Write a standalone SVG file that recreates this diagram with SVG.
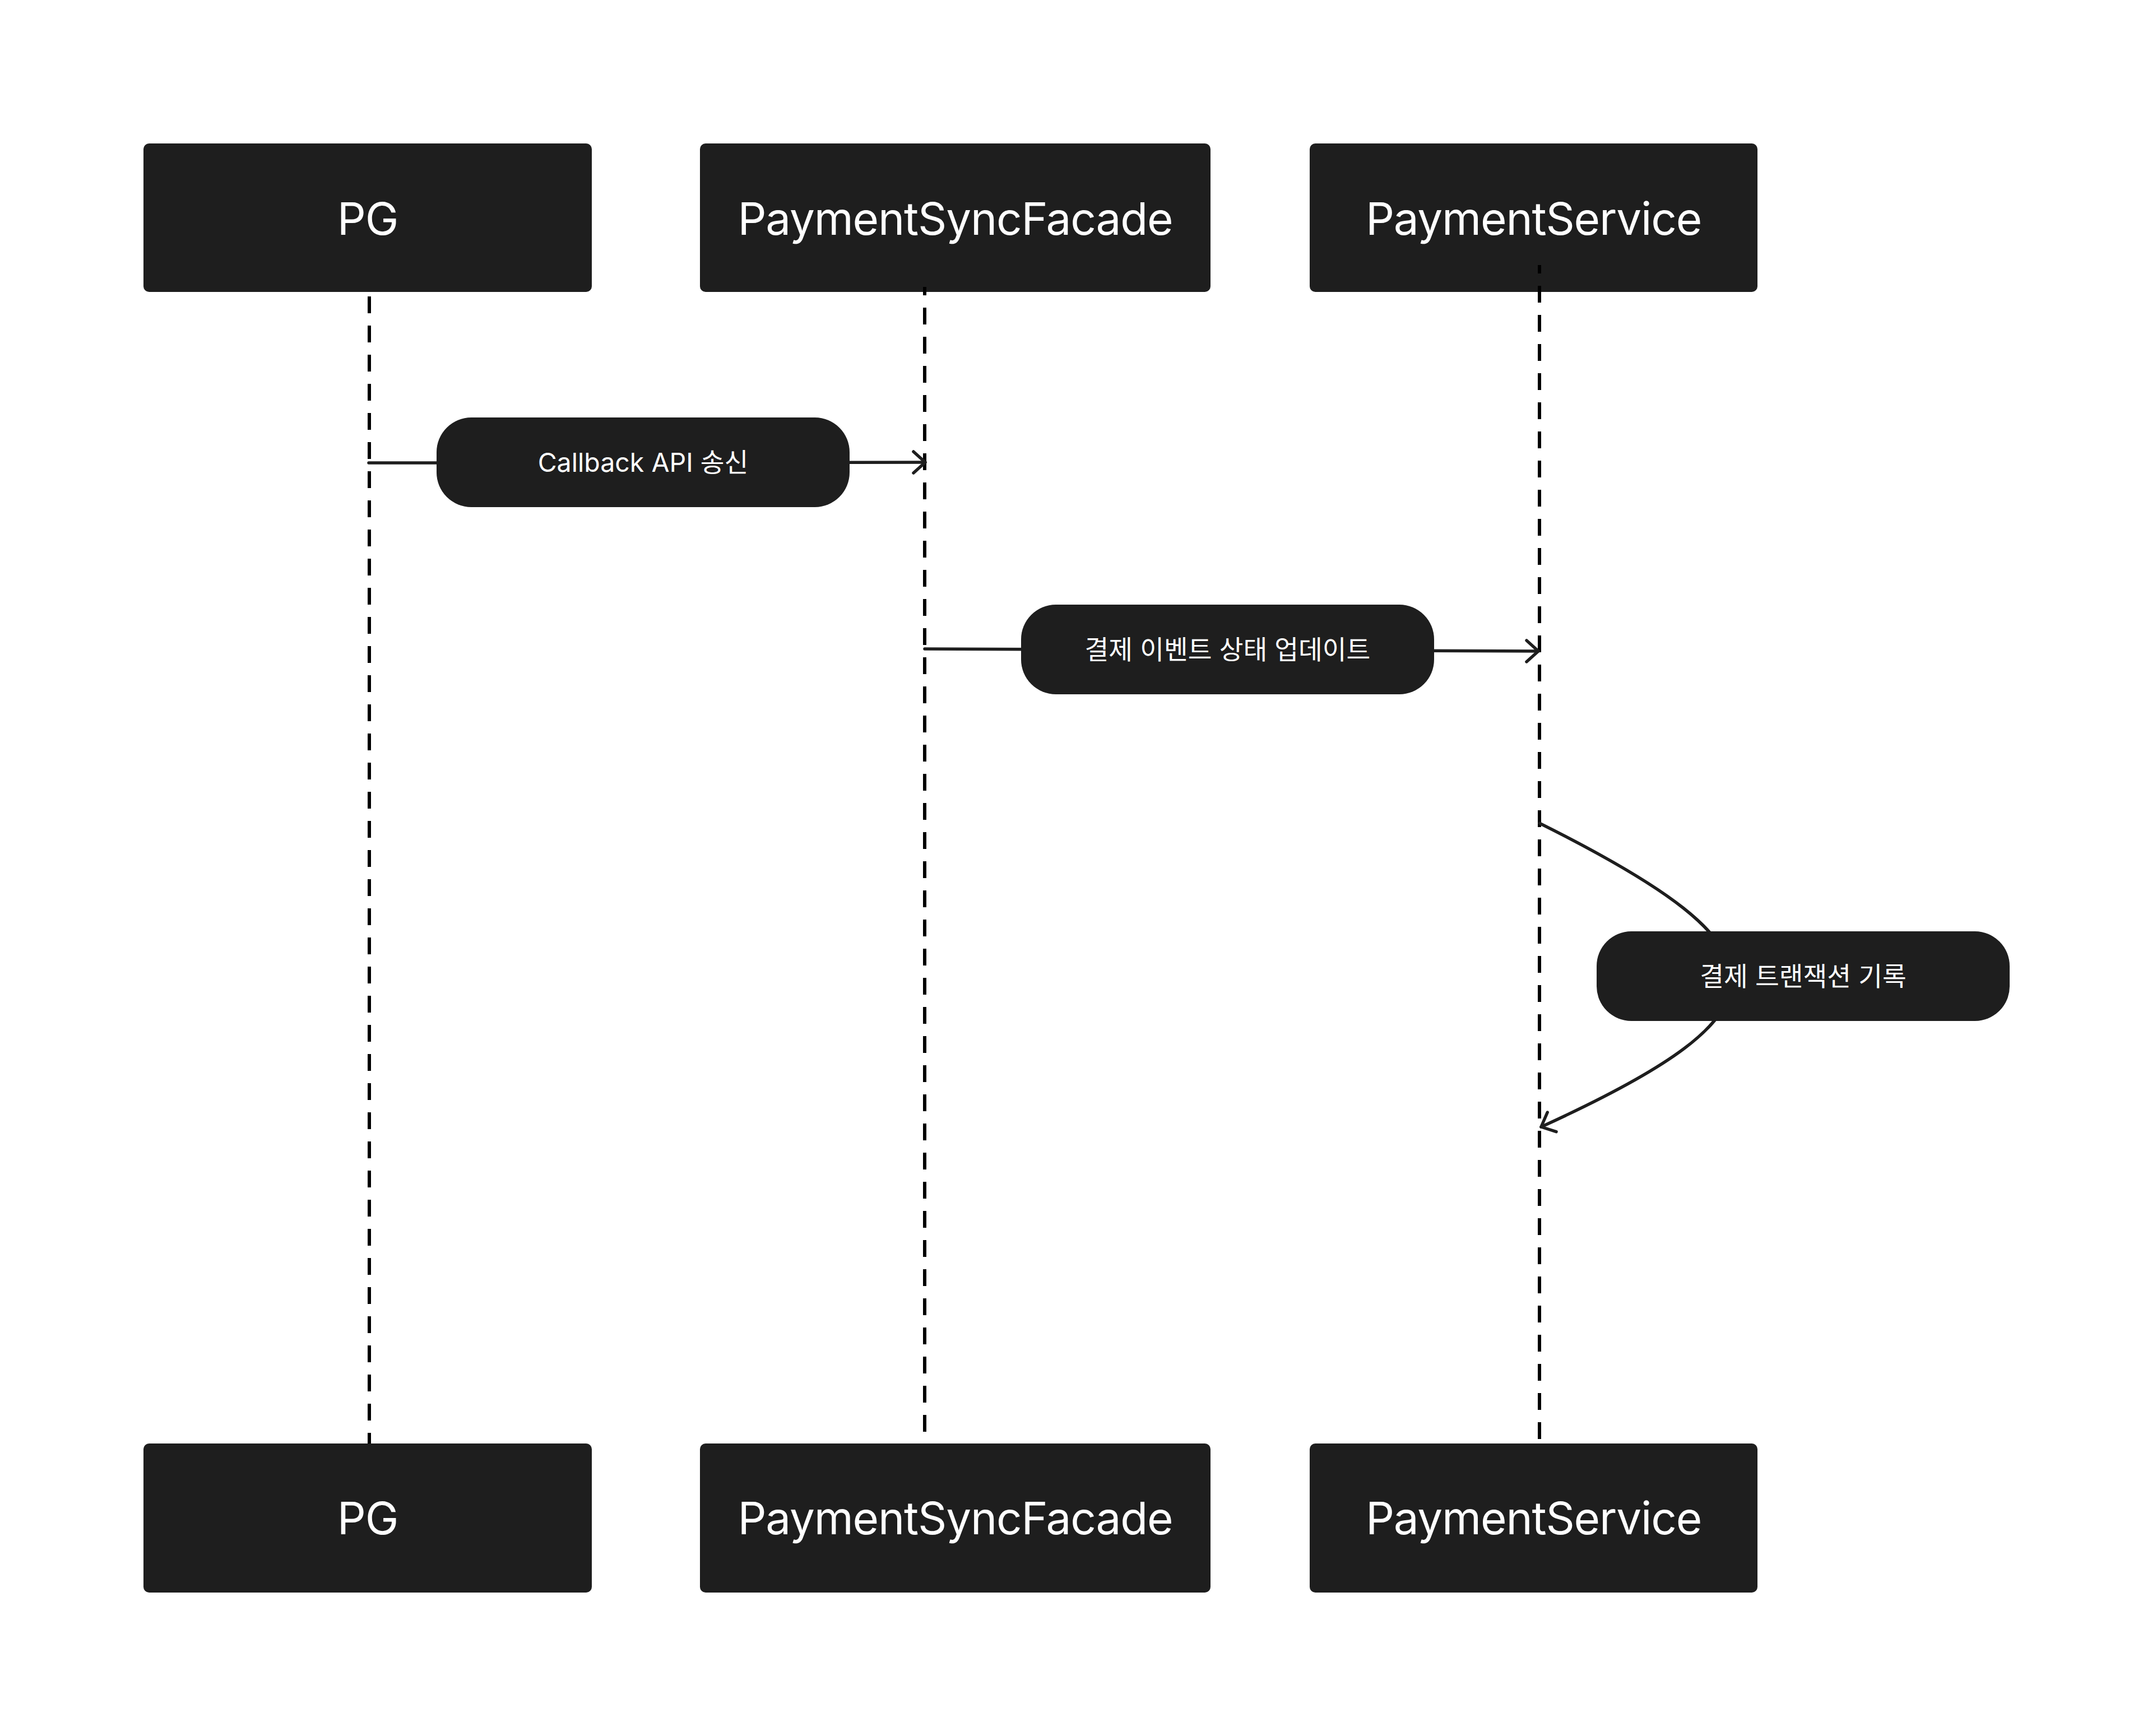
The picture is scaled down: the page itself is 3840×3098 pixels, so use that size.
<svg xmlns="http://www.w3.org/2000/svg" width="3840" height="3098" viewBox="0 0 3840 3098">
  <style>
    .box { fill: #1e1e1e; }
    .boxtxt { fill: #ffffff; font-family: Inter, "Noto Sans", "Noto Sans CJK KR", sans-serif; font-size: 80px; letter-spacing: -1.2px; text-anchor: middle; }
    .pill { fill: #1e1e1e; }
    .pilltxt { fill: #ffffff; font-family: Inter, "Noto Sans CJK KR", sans-serif; font-size: 46.5px; text-anchor: middle; }
    .life { stroke: #000000; stroke-width: 6; stroke-dasharray: 30 22; fill: none; }
    .msg { stroke: #1e1e1e; stroke-width: 5.5; fill: none; stroke-linecap: round; marker-end: url(#arrow); }
  </style>
  <defs>
    <marker id="arrow" markerUnits="userSpaceOnUse" viewBox="-30 -30 40 60" markerWidth="40" markerHeight="60" refX="0" refY="0" orient="auto" overflow="visible">
      <path d="M -21 -19 L 0 0 L -21 19" fill="none" stroke="#1e1e1e" stroke-width="5.5" stroke-linecap="round" stroke-linejoin="round"/>
    </marker>
  </defs>
  <rect width="3840" height="3098" fill="#ffffff"/>

  <g id="node-pg-top">
    <rect class="box" x="256" y="256" width="800" height="265" rx="10"/>
    <text class="boxtxt" x="656" y="419">PG</text>
  </g>
  <g id="node-facade-top">
    <rect class="box" x="1249" y="256" width="911" height="265" rx="10"/>
    <text class="boxtxt" x="1704.5" y="419">PaymentSyncFacade</text>
  </g>
  <g id="node-service-top">
    <rect class="box" x="2337" y="256" width="799" height="265" rx="10"/>
    <text class="boxtxt" x="2736.5" y="419">PaymentService</text>
  </g>

  <g id="node-pg-bottom">
    <rect class="box" x="256" y="2576" width="800" height="266" rx="10"/>
    <text class="boxtxt" x="656" y="2738">PG</text>
  </g>
  <g id="node-facade-bottom">
    <rect class="box" x="1249" y="2576" width="911" height="266" rx="10"/>
    <text class="boxtxt" x="1704.5" y="2738">PaymentSyncFacade</text>
  </g>
  <g id="node-service-bottom">
    <rect class="box" x="2337" y="2576" width="799" height="266" rx="10"/>
    <text class="boxtxt" x="2736.5" y="2738">PaymentService</text>
  </g>

  <g id="connectors">
    <line class="life" x1="659" y1="529" x2="659" y2="2576"/>
    <line class="life" x1="1650" y1="512" x2="1650" y2="2558" stroke-dashoffset="15"/>
    <line class="life" x1="2747" y1="473" x2="2747" y2="2576" stroke-dashoffset="15"/>
    <path class="msg" d="M 658 826 L 1651 825"/>
    <path class="msg" d="M 1650 1158 L 2745 1162"/>
    <path class="msg" d="M 2747 1469 C 3204 1697, 3204 1804, 2750 2011"/>
  </g>

  <g id="label-callback">
    <rect class="pill" x="779" y="745" width="737" height="160" rx="62"/>
    <text class="pilltxt" x="1147.5" y="842">Callback API 송신</text>
  </g>
  <g id="label-update">
    <rect class="pill" x="1822" y="1079" width="737" height="160" rx="62"/>
    <text class="pilltxt" x="2190.5" y="1176">결제 이벤트 상태 업데이트</text>
  </g>
  <g id="label-record">
    <rect class="pill" x="2849" y="1662" width="737" height="160" rx="62"/>
    <text class="pilltxt" x="3217.5" y="1759">결제 트랜잭션 기록</text>
  </g>
</svg>
